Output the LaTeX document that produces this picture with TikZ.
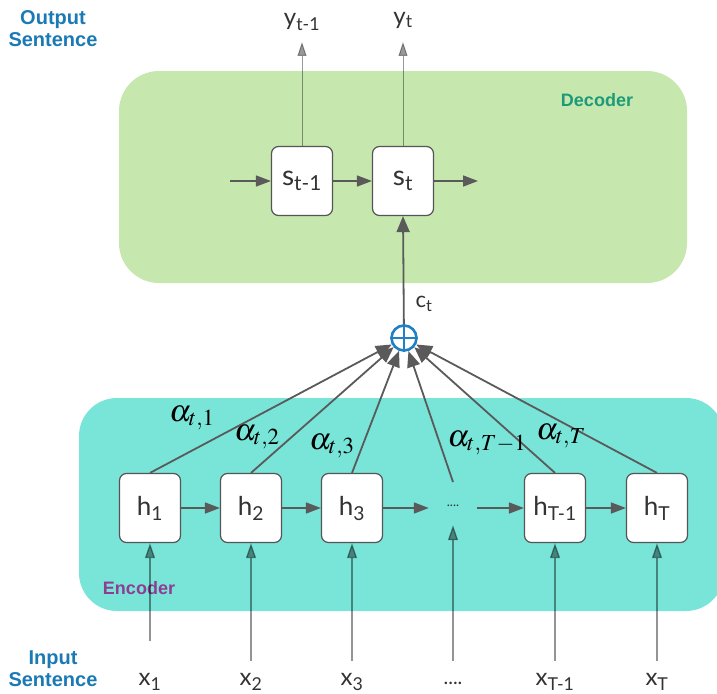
\documentclass[tikz,border=0pt]{standalone}
\usepackage{mathptmx}
\usepackage[no-math]{fontspec}
\setmainfont{Lato}
\newfontfamily\headfont{Liberation Sans}
\usetikzlibrary{arrows.meta}

\definecolor{decfill}{HTML}{C6E8AE}
\definecolor{encfill}{HTML}{78E5D8}
\definecolor{linegray}{HTML}{5A5A5A}
\definecolor{boxgray}{HTML}{555555}
\definecolor{txtgray}{HTML}{333333}
\definecolor{headblue}{HTML}{1B7AB5}
\definecolor{decgreen}{HTML}{1E9A78}
\definecolor{encpurple}{HTML}{8E3D92}
\definecolor{sumblue}{HTML}{1F80C4}

% variable with a text subscript
\newcommand\vsub[2]{#1\textsubscript{#2}}

\begin{document}
\begin{tikzpicture}[x=1pt,y=-1pt,
  cell/.style={draw=boxgray, line width=1.2pt, fill=white, rounded corners=7pt,
    minimum width=61pt, minimum height=69pt, inner sep=0pt, text=txtgray,
    font=\fontsize{26}{30}\selectfont},
  flow/.style={draw=linegray, line width=1.6pt, -{Triangle[length=15pt,width=11pt]}},
  fan/.style={draw=linegray, line width=1.8pt, -{Triangle[length=16pt,width=13pt]}},
  inarrow/.style={draw=black, opacity=0.42, line width=1.3pt,
    -{Triangle[length=15pt,width=10pt]}},
  outarrow/.style={draw=black, opacity=0.4, line width=1pt,
    -{Triangle[length=14pt,width=9pt]}},
  varlabel/.style={text=txtgray, inner sep=0pt, font=\fontsize{24}{28}\selectfont},
  weight/.style={text=black, inner sep=0pt, font=\fontsize{31}{36}\selectfont},
  heading/.style={font=\headfont\bfseries\fontsize{18}{22}\selectfont, align=center, inner sep=0pt},
  sidehead/.style={heading, text=headblue, font=\headfont\bfseries\fontsize{20}{22}\selectfont},
]
\useasboundingbox (0,0) rectangle (717,693);
\clip (0,0) rectangle (717,693);

% decoder and encoder panels
\fill[decfill, rounded corners=40pt] (119,71) rectangle (687,283);
\fill[encfill, rounded corners=38pt] (79,398) rectangle (724,611);

\node[heading, text=decgreen] (declbl) at (597,100) {Decoder};
\node[heading, text=encpurple] (enclbl) at (139,588) {Encoder};
\node[sidehead] (outlbl) at (53,29) {Output\\Sentence};
\node[sidehead] (inlbl) at (53,669) {Input\\Sentence};

% decoder states
\node[cell, font=\fontsize{28}{32}\selectfont] (s1) at (302,181) {\vsub{s}{t-1}};
\node[cell, font=\fontsize{28}{32}\selectfont] (st) at (403,181) {\vsub{s}{t}};

% outputs
\node[varlabel] (y1) at (302,22) {\vsub{y}{t-1}};
\node[varlabel] (yt) at (403,20) {\vsub{y}{t}};
\coordinate (o1) at (302,42);
\coordinate (ot) at (403,42);
\draw[outarrow] (s1.north) -- (o1);
\draw[outarrow] (st.north) -- (ot);

\coordinate (sin) at (230,181);
\coordinate (sout) at (478,181);
\draw[flow] (sin) -- (s1.west);
\draw[flow] (s1.east) -- (st.west);
\draw[flow] (st.east) -- (sout);

% encoder states
\node[cell] (h1) at (150,508) {\vsub{h}{1}};
\node[cell] (h2) at (251,508) {\vsub{h}{2}};
\node[cell] (h3) at (352,508) {\vsub{h}{3}};
\node[minimum width=48pt, minimum height=34pt, inner sep=0pt, text=txtgray,
  font=\fontsize{13}{15}\selectfont] (hd) at (453,508) {\raisebox{5pt}{....}};
\node[cell] (hT1) at (555,508) {\vsub{h}{T-1}};
\node[cell] (hT) at (657,508) {\vsub{h}{T}};

\draw[flow] (h1.east) -- (h2.west);
\draw[flow] (h2.east) -- (h3.west);
\draw[flow] (h3.east) -- (hd.west);
\draw[flow] (hd.east) -- (hT1.west);
\draw[flow] (hT1.east) -- (hT.west);

% inputs
\node[varlabel] (x1) at (150,682) {\vsub{x}{1}};
\node[varlabel] (x2) at (251,682) {\vsub{x}{2}};
\node[varlabel] (x3) at (352,682) {\vsub{x}{3}};
\node[varlabel, font=\fontsize{20}{24}\selectfont] (xd) at (453,683) {....};
\node[varlabel] (xT1) at (555,682) {\vsub{x}{T-1}};
\node[varlabel] (xT) at (657,682) {\vsub{x}{T}};
\coordinate (i1) at (150,641);
\coordinate (i2) at (251,661);
\coordinate (i3) at (352,661);
\coordinate (id) at (453,661);
\coordinate (iT1) at (555,661);
\coordinate (iT) at (657,661);
\draw[inarrow] (i1) -- (h1.south);
\draw[inarrow] (i2) -- (h2.south);
\draw[inarrow] (i3) -- (h3.south);
\draw[inarrow] (id) -- (hd.south);
\draw[inarrow] (iT1) -- (hT1.south);
\draw[inarrow] (iT) -- (hT.south);

% attention sum
\node[circle, draw=sumblue, fill=white, line width=2.6pt, minimum size=25pt,
  inner sep=0pt] (sum) at (404,338) {};
\draw[sumblue, line width=2.6pt] (sum.north) -- (sum.south) (sum.west) -- (sum.east);

\coordinate (hdtop) at (453,482);
\draw[fan] (h1.north) -- (sum);
\draw[fan] (h2.north) -- (sum);
\draw[fan] (h3.north) -- (sum);
\draw[fan] (hdtop) -- (sum);
\draw[fan] (hT1.north) -- (sum);
\draw[fan] (hT.north) -- (sum);
\draw[fan] (sum) -- (st.south);

\node[varlabel, font=\fontsize{22}{26}\selectfont] (ct) at (424,304) {\vsub{c}{t}};

% attention weights
\node[weight] (a1) at (192,418) {$\alpha_{t,1}$};
\node[weight] (a2) at (257,437) {$\alpha_{t,2}$};
\node[weight] (a3) at (332,446) {$\alpha_{t,3}$};
\node[weight] (aT1) at (487,443) {$\alpha_{t,T-1}$};
\node[weight] (aT) at (561,436) {$\alpha_{t,T}$};
\end{tikzpicture}
\end{document}
